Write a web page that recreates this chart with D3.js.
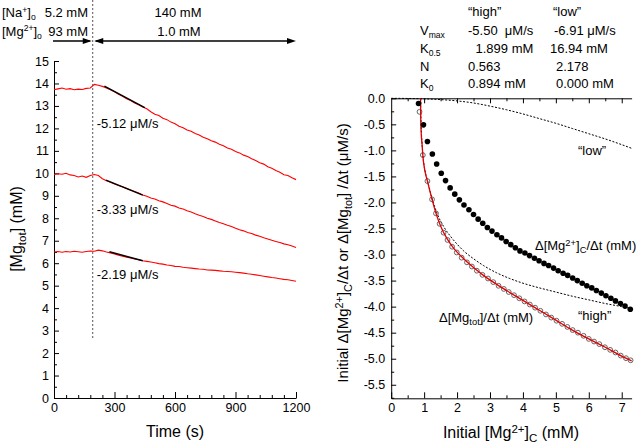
<!DOCTYPE html>
<html><head><meta charset="utf-8">
<script src="https://cdn.jsdelivr.net/npm/d3@7"></script>
<style>
body{margin:0;background:#fff;}
svg{display:block;font-family:"Liberation Sans",Arial,sans-serif;}
</style></head><body>
<svg id="c" width="640" height="446"></svg>
<script>
// ---------------- DATA ----------------
// Left panel: time traces of [Mg_tot] (mM)
const traceTime = [0,20,40,60,80,100,120,140,160,180,
  200,220,240,260,280,300,320,340,360,380,
  400,420,440,460,480,500,520,540,560,580,
  600,620,640,660,680,700,720,740,760,780,
  800,820,840,860,880,900,920,940,960,980,
  1000,1020,1040,1060,1080,1100,1120,1140,1160,1180,1200];
const traceTop = [13.72,13.76,13.80,13.74,13.77,13.72,13.75,13.73,13.78,13.80,
  13.96,13.92,13.87,13.80,13.72,13.63,13.52,13.43,13.32,13.24,
  13.13,13.05,12.95,12.87,12.74,12.63,12.57,12.45,12.39,12.28,
  12.21,12.10,12.03,11.93,11.87,11.77,11.71,11.61,11.54,11.45,
  11.39,11.29,11.23,11.13,11.07,10.97,10.91,10.81,10.75,10.65,
  10.57,10.47,10.41,10.29,10.23,10.13,10.05,9.94,9.90,9.80,9.72];
const traceMid = [9.95,9.98,9.96,10.00,9.93,9.90,9.84,9.88,9.82,9.90,
  9.95,9.90,9.76,9.67,9.60,9.53,9.46,9.40,9.33,9.26,
  9.19,9.12,9.04,8.98,8.90,8.86,8.78,8.73,8.66,8.58,
  8.54,8.46,8.41,8.33,8.28,8.20,8.13,8.08,8.00,7.95,
  7.88,7.81,7.76,7.69,7.63,7.56,7.49,7.44,7.37,7.32,
  7.25,7.20,7.13,7.08,7.02,6.97,6.92,6.86,6.82,6.77,6.70];
const traceBot = [6.50,6.52,6.49,6.52,6.50,6.53,6.51,6.49,6.52,6.54,
  6.53,6.58,6.55,6.50,6.46,6.41,6.36,6.31,6.27,6.23,
  6.19,6.15,6.11,6.08,6.05,6.02,5.98,5.96,5.92,5.90,
  5.86,5.85,5.82,5.80,5.78,5.76,5.74,5.73,5.70,5.69,
  5.68,5.66,5.64,5.63,5.62,5.60,5.58,5.56,5.53,5.51,
  5.48,5.45,5.42,5.39,5.36,5.34,5.31,5.28,5.26,5.23,5.20];
// linear fits (start/end)
const fitTopT = [250,450], fitTopY = [13.88,12.92];
const fitMidT = [258,440], fitMidY = [9.70,9.03];
const fitBotT = [275,440], fitBotY = [6.51,6.11];
const fitLabels = ["-5.12 \u03bcM/s","-3.33 \u03bcM/s","-2.19 \u03bcM/s"];
const fitLabelY = [12.2, 8.4, 5.5];
const switchTime = 192;
const switchLineBottom = 2.67;
const leftXTicks = [0,300,600,900,1200];

// Right panel
const filledX = [0.83,0.98,1.10,1.25,1.38,1.52,1.65,1.79,1.93,2.07,2.21,2.36,2.50,2.64,2.78,2.92,3.06,3.21,3.35,3.49,3.63,3.77,
  3.91,4.06,4.20,4.35,4.49,4.64,4.78,4.93,5.07,5.22,5.36,5.51,5.65,5.80,5.94,6.09,6.23,6.38,6.52,6.67,6.81,6.96,7.10,7.26];
const filledY = [-0.10,-0.51,-0.83,-1.07,-1.26,-1.44,-1.58,-1.72,-1.84,-1.95,-2.05,-2.14,-2.23,-2.32,-2.40,-2.48,-2.55,-2.62,-2.68,-2.75,-2.81,-2.87,
  -2.93,-2.97,-3.02,-3.07,-3.12,-3.17,-3.21,-3.26,-3.31,-3.36,-3.40,-3.45,-3.50,-3.55,-3.60,-3.64,-3.69,-3.74,-3.79,-3.84,-3.89,-3.94,-3.99,-4.05];
const openX = [0.86,0.96,1.10,1.24,1.36,1.47,1.59,1.71,1.85,1.99,2.14,2.30,2.45,2.60,2.77,2.94,3.10,3.26,3.42,3.57,3.73,3.89,
  4.05,4.21,4.37,4.53,4.70,4.86,5.02,5.19,5.35,5.51,5.67,5.84,6.00,6.16,6.32,6.49,6.65,6.81,6.97,7.13,7.27];
const openY = [-0.26,-1.09,-1.59,-1.94,-2.21,-2.41,-2.58,-2.72,-2.85,-2.96,-3.06,-3.15,-3.23,-3.31,-3.39,-3.46,-3.53,-3.60,-3.66,-3.72,-3.78,-3.84,
  -3.90,-3.96,-4.02,-4.08,-4.15,-4.21,-4.27,-4.33,-4.39,-4.45,-4.50,-4.56,-4.62,-4.67,-4.72,-4.78,-4.83,-4.88,-4.94,-4.99,-5.03];
const fitTotX = [0.89,0.895,0.91,0.94,0.96,1.02,1.10,1.24,1.36,1.5,1.7,1.9,2.2,2.5,2.8,3.1,3.5,4.0,4.5,5.0,5.5,6.0,6.5,7.0,7.3];
const fitTotY = [0,-0.3,-0.65,-0.9,-1.09,-1.38,-1.59,-1.94,-2.21,-2.45,-2.70,-2.88,-3.08,-3.25,-3.40,-3.53,-3.69,-3.88,-4.07,-4.26,-4.45,-4.62,-4.78,-4.95,-5.04];
const highX = [0.894,0.90,0.92,0.96,1.02,1.10,1.24,1.4,1.6,1.8,2.0,2.2,2.5,2.8,3.2,3.6,4.0,4.5,5.0,5.5,6.0,6.5,7.0,7.3];
const highY = [0,-0.3,-0.68,-1.08,-1.37,-1.58,-1.92,-2.22,-2.47,-2.65,-2.80,-2.93,-3.08,-3.21,-3.35,-3.46,-3.55,-3.64,-3.72,-3.80,-3.87,-3.94,-4.00,-4.04];
const lowX = [0,0.5,1,1.5,2,2.5,3,3.5,4,4.5,5,5.5,6,6.5,7,7.3];
const lowY = [0,-0.003,-0.01,-0.025,-0.05,-0.09,-0.15,-0.22,-0.30,-0.39,-0.48,-0.58,-0.68,-0.78,-0.89,-0.96];
const paramNames = ["Vmax","K0.5","N","K0"];
const paramHigh = ["-5.50  \u03bcM/s","1.899 mM","0.563","0.894 mM"];
const paramLow = ["-6.91 \u03bcM/s","16.94 mM","2.178","0.000 mM"];
const rightYTicks = [0,-0.5,-1,-1.5,-2,-2.5,-3,-3.5,-4,-4.5,-5,-5.5];
const rightXTicks = [0,1,2,3,4,5,6,7];

// ---------------- DRAW ----------------
const svg = d3.select("#c");
const FS = 12.5;

function rich(g, x, y, parts, fs, anchor, scale) {
  const sc = scale || 0.72;
  const t = g.append("text").attr("x", x).attr("y", y).attr("font-size", fs)
    .attr("text-anchor", anchor || "start").attr("fill", "#000");
  let shift = 0;
  parts.forEach(p => {
    const s = typeof p === "string" ? p : p[0];
    const k = typeof p === "string" ? "n" : p[1];
    const target = k === "sup" ? -0.34 : k === "sub" ? 0.26 : 0;
    const ts = t.append("tspan").text(s).attr("dy", (target - shift) * fs);
    if (k !== "n") ts.attr("font-size", fs * sc);
    shift = target;
  });
  return t;
}

function styleAxis(g, fs) {
  g.selectAll("path,line").attr("stroke", "#000").attr("stroke-width", 1);
  g.selectAll("text").attr("font-size", fs).attr("fill", "#000")
    .attr("font-family", "'Liberation Sans',Arial,sans-serif");
}

// ----- Left panel
const xL = d3.scaleLinear().domain([0, 1200]).range([54, 296]);
const yL = d3.scaleLinear().domain([0, 15]).range([398, 61]);

const gLy = svg.append("g").attr("transform", `translate(${xL(0)},0)`)
  .call(d3.axisLeft(yL).tickValues(d3.range(0, 16)).tickFormat(d3.format("d"))
    .tickSize(-5).tickSizeOuter(0).tickPadding(5));
styleAxis(gLy, FS);
const gLym = svg.append("g").attr("transform", `translate(${xL(0)},0)`)
  .call(d3.axisLeft(yL).tickValues(d3.range(0.5, 15, 1)).tickFormat("").tickSize(-3).tickSizeOuter(0));
styleAxis(gLym, FS); gLym.select(".domain").remove();

const gLx = svg.append("g").attr("transform", `translate(0,${yL(0)})`)
  .call(d3.axisBottom(xL).tickValues(leftXTicks).tickFormat(d3.format("d"))
    .tickSize(-6).tickSizeOuter(0).tickPadding(5));
styleAxis(gLx, FS);
const gLxm = svg.append("g").attr("transform", `translate(0,${yL(0)})`)
  .call(d3.axisBottom(xL).tickValues(d3.range(60, 1200, 60).filter(v => v % 300 !== 0)).tickFormat("").tickSize(-3).tickSizeOuter(0));
styleAxis(gLxm, FS); gLxm.select(".domain").remove();

// switch dashed line
svg.append("line").attr("x1", xL(switchTime)).attr("x2", xL(switchTime))
  .attr("y1", 0).attr("y2", yL(switchLineBottom))
  .attr("stroke", "#555").attr("stroke-width", 1).attr("stroke-dasharray", "2,2");

// traces
const lineL = d3.line().x(d => xL(d[0])).y(d => yL(d[1]));
[traceTop, traceMid, traceBot].forEach(tr => {
  svg.append("path").datum(traceTime.map((t, i) => [t, tr[i]]))
    .attr("d", lineL).attr("fill", "none").attr("stroke", "#ff0000").attr("stroke-width", 1.1);
});
[[fitTopT, fitTopY], [fitMidT, fitMidY], [fitBotT, fitBotY]].forEach(([T, Y]) => {
  svg.append("path").datum(T.map((t, i) => [t, Y[i]]))
    .attr("d", lineL).attr("fill", "none").attr("stroke", "#000").attr("stroke-width", 1.4);
});
fitLabels.forEach((s, i) => {
  svg.append("text").attr("x", xL(switchTime) + 4).attr("y", yL(fitLabelY[i]) + 4.5)
    .attr("font-size", 13).text(s);
});

// header texts
rich(svg, 2, 17, ["[Na", ["+", "sup"], "]", ["o", "sub"]], 13, "start", 0.66);
svg.append("text").attr("x", 88).attr("y", 17).attr("font-size", 13).attr("text-anchor", "end").text("5.2 mM");
rich(svg, 2, 35.5, ["[Mg", ["2+", "sup"], "]", ["o", "sub"]], 13, "start", 0.66);
svg.append("text").attr("x", 88).attr("y", 35.5).attr("font-size", 13).attr("text-anchor", "end").text("93 mM");
svg.append("text").attr("x", 178).attr("y", 17).attr("font-size", 13).attr("text-anchor", "middle").text("140 mM");
svg.append("text").attr("x", 179).attr("y", 35.5).attr("font-size", 13).attr("text-anchor", "middle").text("1.0 mM");

// arrows
const ay = 41;
function arrowHead(x, dir) {
  svg.append("path").attr("d", `M${x},${ay} L${x - dir * 9},${ay - 3} L${x - dir * 9},${ay + 3} Z`).attr("fill", "#000");
}
svg.append("line").attr("x1", xL(0) - 1).attr("x2", xL(switchTime) - 3).attr("y1", ay).attr("y2", ay).attr("stroke", "#000").attr("stroke-width", 1.3);
arrowHead(xL(switchTime) - 1, 1);
svg.append("line").attr("x1", xL(switchTime) + 3).attr("x2", xL(1200) - 3).attr("y1", ay).attr("y2", ay).attr("stroke", "#000").attr("stroke-width", 1.3);
arrowHead(xL(switchTime) + 1.5, -1);
arrowHead(xL(1200), 1);

// axis titles left
svg.append("text").attr("x", 175).attr("y", 437).attr("font-size", 16).attr("text-anchor", "middle").text("Time (s)");
const gLt = svg.append("g").attr("transform", "translate(22,229) rotate(-90)");
rich(gLt, 0, 0, ["[Mg", ["tot", "sub"], "] (mM)"], 16, "middle");

// ----- Right panel
const xR = d3.scaleLinear().domain([0, 7.3]).range([391.2, 631.6]);
const yR = d3.scaleLinear().domain([0, -5.76]).range([98.3, 398.3]);

const gRy = svg.append("g").attr("transform", `translate(${xR(0)},0)`)
  .call(d3.axisLeft(yR).tickValues(rightYTicks).tickFormat(d => (Math.abs(d) < 1e-9 ? 0 : d).toFixed(1))
    .tickSize(-5).tickSizeOuter(0).tickPadding(6));
styleAxis(gRy, FS);
const gRym = svg.append("g").attr("transform", `translate(${xR(0)},0)`)
  .call(d3.axisLeft(yR).tickValues(d3.range(-0.25, -5.76, -0.5)).tickFormat("").tickSize(-3).tickSizeOuter(0));
styleAxis(gRym, FS); gRym.select(".domain").remove();

const gRx = svg.append("g").attr("transform", `translate(0,${yR(-5.76)})`)
  .call(d3.axisBottom(xR).tickValues(rightXTicks).tickFormat(d3.format("d"))
    .tickSize(-6).tickSizeOuter(0).tickPadding(5));
styleAxis(gRx, FS);
const gRxm = svg.append("g").attr("transform", `translate(0,${yR(-5.76)})`)
  .call(d3.axisBottom(xR).tickValues(d3.range(0.5, 7.3, 1)).tickFormat("").tickSize(-3).tickSizeOuter(0));
styleAxis(gRxm, FS); gRxm.select(".domain").remove();

const gRt = svg.append("g").attr("transform", `translate(0,${yR(0)})`)
  .call(d3.axisTop(xR).tickValues(rightXTicks.slice(1)).tickFormat("").tickSize(-5).tickSizeOuter(0));
styleAxis(gRt, FS);
const gRtm = svg.append("g").attr("transform", `translate(0,${yR(0)})`)
  .call(d3.axisTop(xR).tickValues(d3.range(0.5, 7.3, 1)).tickFormat("").tickSize(-3).tickSizeOuter(0));
styleAxis(gRtm, FS); gRtm.select(".domain").remove();

const lineR = d3.line().x(d => xR(d[0])).y(d => yR(d[1])).curve(d3.curveMonotoneX);
// low and high component curves (dotted)
svg.append("path").datum(lowX.map((x, i) => [x, lowY[i]])).attr("d", lineR)
  .attr("fill", "none").attr("stroke", "#000").attr("stroke-width", 1).attr("stroke-dasharray", "2,1.6");
svg.append("path").datum(highX.map((x, i) => [x, highY[i]])).attr("d", lineR)
  .attr("fill", "none").attr("stroke", "#000").attr("stroke-width", 1).attr("stroke-dasharray", "2,1.6");

// open circles
svg.append("g").selectAll("circle").data(openX.map((x, i) => [x, openY[i]])).join("circle")
  .attr("cx", d => xR(d[0])).attr("cy", d => yR(d[1])).attr("r", 2.4)
  .attr("fill", "none").attr("stroke", "#555").attr("stroke-width", 0.9);
// total fit (red)
svg.append("path").datum(fitTotX.map((x, i) => [x, fitTotY[i]])).attr("d", lineR)
  .attr("fill", "none").attr("stroke", "#e00000").attr("stroke-width", 1.3);
// filled dots
svg.append("g").selectAll("circle").data(filledX.map((x, i) => [x, filledY[i]])).join("circle")
  .attr("cx", d => xR(d[0])).attr("cy", d => yR(d[1])).attr("r", 2.8).attr("fill", "#000");

// parameter table
const TF = 13;
svg.append("text").attr("x", 468).attr("y", 16).attr("font-size", TF).text("\u201chigh\u201d");
svg.append("text").attr("x", 553).attr("y", 16).attr("font-size", TF).text("\u201clow\u201d");
const rowY = [34.5, 52.5, 70.5, 87.5];
rich(svg, 420, rowY[0], ["V", ["max", "sub"]], TF, "start", 0.66);
rich(svg, 420, rowY[1], ["K", ["0.5", "sub"]], TF, "start", 0.66);
rich(svg, 420, rowY[2], ["N"], TF);
rich(svg, 420, rowY[3], ["K", ["0", "sub"]], TF, "start", 0.66);
const highXpos = [468, 475.5, 468, 468];
const lowXpos = [554, 550, 556, 556];
paramHigh.forEach((s, i) => svg.append("text").attr("x", highXpos[i]).attr("y", rowY[i]).attr("font-size", TF).attr("xml:space", "preserve").style("white-space", "pre").text(s));
paramLow.forEach((s, i) => svg.append("text").attr("x", lowXpos[i]).attr("y", rowY[i]).attr("font-size", TF).text(s));

// annotations right
svg.append("text").attr("x", 578).attr("y", 155).attr("font-size", TF).text("\u201clow\u201d");
svg.append("text").attr("x", 578).attr("y", 320).attr("font-size", TF).text("\u201chigh\u201d");
rich(svg, 535, 250, ["\u0394[Mg", ["2+", "sup"], "]", ["C", "sub"], "/\u0394t (mM)"], TF);
rich(svg, 439, 322, ["\u0394[Mg", ["tot", "sub"], "]/\u0394t (mM)"], TF);

// axis titles right
rich(svg, 511, 438, ["Initial [Mg", ["2+", "sup"], "]", ["C", "sub"], " (mM)"], 16, "middle");
const gRtt = svg.append("g").attr("transform", "translate(348,253) rotate(-90)");
rich(gRtt, 0, 0, ["Initial \u0394[Mg", ["2+", "sup"], "]", ["C", "sub"], "/\u0394t or \u0394[Mg", ["tot", "sub"], "] /\u0394t (\u03bcM/s)"], 15, "middle");
</script>
</body></html>
